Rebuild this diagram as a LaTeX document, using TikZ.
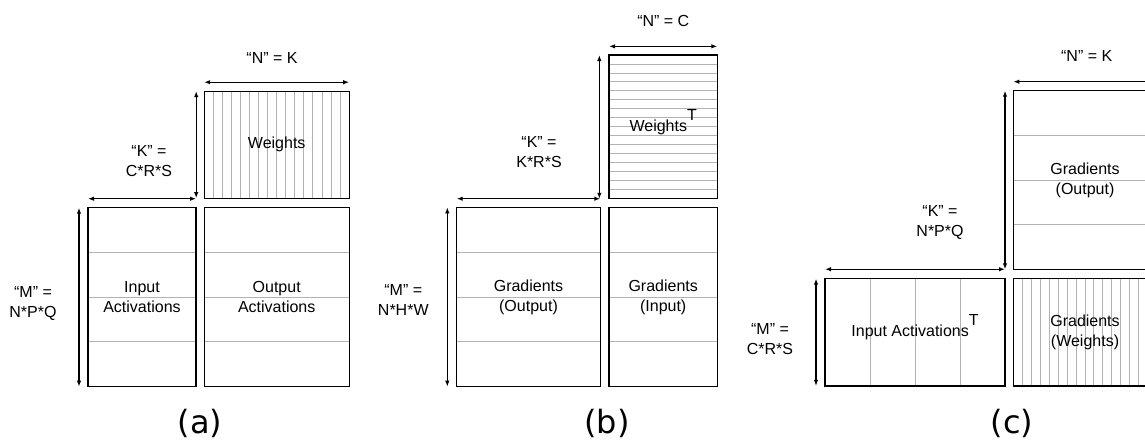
\documentclass[tikz,border=0pt]{standalone}
\usepackage{fontspec}
\setmainfont{Liberation Sans}
\newfontfamily\capfont{DejaVu Sans}
\usetikzlibrary{arrows.meta,calc}

\definecolor{gridgray}{RGB}{178,178,178}
\newcommand{\supT}{\smash{\raisebox{11pt}{T}}}

\tikzset{
  mat/.style={draw=black, line width=1.2pt, inner sep=0pt, outer sep=0pt, align=center,
    font=\fontsize{16}{20}\selectfont},
  gridline/.style={draw=gridgray, line width=1pt},
  hrows/.style={path picture={
    \foreach \k [evaluate=\k as \f using \k/(#1+1)] in {1,...,#1}
      \draw[gridline] ($(path picture bounding box.north west)!\f!(path picture bounding box.south west)$)
        -- ($(path picture bounding box.north east)!\f!(path picture bounding box.south east)$);
  }},
  vcols/.style={path picture={
    \foreach \k [evaluate=\k as \f using \k/(#1+1)] in {1,...,#1}
      \draw[gridline] ($(path picture bounding box.north west)!\f!(path picture bounding box.north east)$)
        -- ($(path picture bounding box.south west)!\f!(path picture bounding box.south east)$);
  }},
  lbl/.style={align=center, inner sep=0pt, font=\fontsize{16}{20}\selectfont},
  dim/.style={<->, line width=1.3pt},
  sub/.style={anchor=base, inner sep=0pt, font=\capfont\fontsize{32}{36}\selectfont}
}

\begin{document}
\begin{tikzpicture}[x=1pt, y=-1pt, >={Latex[length=6pt,width=4.5pt]}]

\useasboundingbox (0,0) rectangle (1145,440);
\clip (0,0) rectangle (1145,440);

% (a) forward
\node[mat, minimum width=145pt, minimum height=107pt, vcols=15] (wa) at (276.7,144.7) {Weights};
\node[mat, minimum width=108pt, minimum height=179pt, hrows=3] (ia) at (142,297.2) {Input\\Activations};
\node[mat, minimum width=145pt, minimum height=179pt, hrows=3] (oa) at (276.7,297.2) {Output\\Activations};

\node[lbl] (na) at (272,58) {“N” = K};
\node[lbl] (ka) at (149,161) {“K” =\\C*R*S};
\node[lbl] (ma) at (33,303) {“M” =\\N*P*Q};
\node[sub] (capa) at (200,433) {(a)};

\draw[dim] ([yshift=9pt]wa.north west) -- ([yshift=9pt]wa.north east);
\draw[dim] ([yshift=9pt]ia.north west) -- ([yshift=9pt]ia.north east);
\draw[dim] ([xshift=-8pt]wa.north west) -- ([xshift=-8pt]wa.south west);
\draw[dim] ([xshift=-9pt]ia.north west) -- ([xshift=-9pt]ia.south west);

% (b) backward, input gradients
\node[mat, minimum width=108.3pt, minimum height=143.7pt, hrows=15] (wb) at (663.2,126.9) {Weights\supT};
\node[mat, minimum width=143.6pt, minimum height=179.4pt, hrows=3] (gob) at (528.5,297) {Gradients\\(Output)};
\node[mat, minimum width=108.3pt, minimum height=179.4pt, hrows=3] (gib) at (663.2,297) {Gradients\\(Input)};

\node[lbl] (nb) at (663.3,20.7) {“N” = C};
\node[lbl] (kb) at (539,152) {“K” =\\K*R*S};
\node[lbl] (mb) at (403.3,300) {“M” =\\N*H*W};
\node[sub] (capb) at (607,433) {(b)};

\draw[dim] ([yshift=8.7pt]wb.north west) -- ([yshift=8.7pt]wb.north east);
\draw[dim] ([yshift=8.6pt]gob.north west) -- ([yshift=8.6pt]gob.north east);
\draw[dim] ([xshift=-9.7pt]wb.north west) -- ([xshift=-9.7pt]wb.south west);
\draw[dim] ([xshift=-9.4pt]gob.north west) -- ([xshift=-9.4pt]gob.south west);

% (c) backward, weight gradients
\node[mat, minimum width=143.4pt, minimum height=178.6pt, hrows=3] (goc) at (1085,180) {Gradients\\(Output)};
\node[mat, minimum width=180pt, minimum height=107.3pt, vcols=3] (iac) at (915,332.3) {Input Activations\supT};
\node[mat, minimum width=143.4pt, minimum height=107.3pt, vcols=15] (gwc) at (1085,332.3) {Gradients\\(Weights)};

\node[lbl] (nc) at (1086.7,56) {“N” = K};
\node[lbl] (kc) at (940,222.7) {“K” =\\N*P*Q};
\node[lbl] (mc) at (770,339.3) {“M” =\\C*R*S};
\node[sub] (capc) at (1012,433) {(c)};

\draw[dim] ([yshift=9pt]goc.north west) -- ([yshift=9pt]goc.north east);
\draw[dim] ([yshift=9.4pt]iac.north west) -- ([yshift=9.4pt]iac.north east);
\draw[dim] ([xshift=-8.3pt]goc.north west) -- ([xshift=-8.3pt]goc.south west);
\draw[dim] ([xshift=-9pt]iac.north west) -- ([xshift=-9pt]iac.south west);

\end{tikzpicture}
\end{document}
